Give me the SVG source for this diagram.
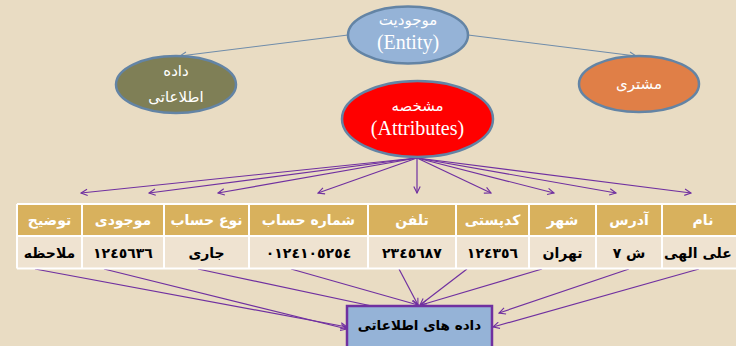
<svg xmlns="http://www.w3.org/2000/svg" width="736" height="346" viewBox="0 0 736 346">
<defs>
<marker id="ap" viewBox="0 0 10 10" refX="9" refY="5" markerWidth="8" markerHeight="8" markerUnits="userSpaceOnUse" orient="auto">
<path d="M1,1 L9,5 L1,9" fill="none" stroke="#7030A0" stroke-width="1.4"/>
</marker>
<marker id="ab" viewBox="0 0 10 10" refX="9" refY="5" markerWidth="8" markerHeight="8" markerUnits="userSpaceOnUse" orient="auto">
<path d="M1,1 L9,5 L1,9" fill="none" stroke="#6F8CAA" stroke-width="1.4"/>
</marker>
</defs>
<style>
.ell{stroke:#6384A5;stroke-width:2.5}
.lat{font-family:"Liberation Serif","DejaVu Serif",serif;font-size:20px;fill:#fff;text-anchor:middle}
.fa{font-family:"DejaVu Sans","Noto Sans",sans-serif;font-size:15px;fill:#fff;text-anchor:middle}
.pc{stroke:#7030A0;stroke-width:1.2;fill:none}
.bc{stroke:#6F8CAA;stroke-width:1.2;fill:none}
.hd{fill:#D8B15D}
.dt{fill:#EFE3D1}
.ht{font-family:"DejaVu Sans","Noto Sans",sans-serif;font-size:14px;font-weight:bold;fill:#fff;text-anchor:middle}
.dtx{font-family:"DejaVu Sans","Noto Sans",sans-serif;font-size:14px;font-weight:bold;fill:#000;text-anchor:middle}
.grid{stroke:#fff;stroke-width:2;fill:none}
</style>
<rect x="0" y="0" width="736" height="346" fill="#E9DCC3"/>

<g id="connectors">
<line class="bc" x1="348" y1="35" x2="180" y2="56" marker-end="url(#ab)"/>
<line class="bc" x1="468" y1="35" x2="636" y2="56" marker-end="url(#ab)"/>
<line class="pc" x1="417" y1="158" x2="81" y2="193" marker-end="url(#ap)"/>
<line class="pc" x1="417" y1="158" x2="149" y2="193" marker-end="url(#ap)"/>
<line class="pc" x1="417" y1="158" x2="218" y2="193" marker-end="url(#ap)"/>
<line class="pc" x1="417" y1="158" x2="318" y2="193" marker-end="url(#ap)"/>
<line class="pc" x1="417" y1="158" x2="417" y2="193" marker-end="url(#ap)"/>
<line class="pc" x1="417" y1="158" x2="491" y2="193" marker-end="url(#ap)"/>
<line class="pc" x1="417" y1="158" x2="554" y2="193" marker-end="url(#ap)"/>
<line class="pc" x1="417" y1="158" x2="616" y2="193" marker-end="url(#ap)"/>
<line class="pc" x1="417" y1="158" x2="691" y2="193" marker-end="url(#ap)"/>
<line class="pc" x1="35" y1="269" x2="347" y2="327" marker-end="url(#ap)"/>
<line class="pc" x1="104" y1="269" x2="347" y2="329" marker-end="url(#ap)"/>
<line class="pc" x1="198" y1="269" x2="400" y2="312"/>
<line class="pc" x1="291" y1="269" x2="418" y2="305" marker-end="url(#ap)"/>
<line class="pc" x1="399" y1="269" x2="418" y2="305" marker-end="url(#ap)"/>
<line class="pc" x1="467" y1="269" x2="420" y2="305" marker-end="url(#ap)"/>
<line class="pc" x1="542" y1="269" x2="421" y2="305" marker-end="url(#ap)"/>
<line class="pc" x1="629" y1="269" x2="499" y2="313" marker-end="url(#ap)"/>
<line class="pc" x1="699" y1="269" x2="493" y2="327" marker-end="url(#ap)"/>
</g>

<g id="entity">
<ellipse class="ell" cx="408" cy="35" rx="60" ry="28.5" fill="#95B3D7"/>
<text class="fa" x="408" y="25" direction="rtl">موجودیت</text>
<text class="lat" x="408" y="49">(Entity)</text>
</g>
<g id="data-node">
<ellipse class="ell" cx="176" cy="84.5" rx="60" ry="28.5" fill="#7F7F56"/>
<text class="fa" x="176" y="76" direction="rtl">داده</text>
<text class="fa" x="176" y="102" direction="rtl">اطلاعاتی</text>
</g>
<g id="customer">
<ellipse class="ell" cx="639" cy="84" rx="60" ry="28" fill="#E07F47"/>
<text class="fa" x="639" y="89" direction="rtl">مشتری</text>
</g>
<g id="attributes">
<ellipse class="ell" cx="417.5" cy="119" rx="75.5" ry="38" fill="#FF0000"/>
<text class="fa" x="417.5" y="111" direction="rtl">مشخصه</text>
<text class="lat" x="417.5" y="135">(Attributes)</text>
</g>

<g id="table">
<rect class="hd" x="17" y="204" width="723" height="31"/>
<rect class="dt" x="17" y="237" width="723" height="31"/>
<path class="grid" d="M17,204 H740 M17,236 H740 M17,268.5 H740 M17,204 V268.5 M82,204 V268.5 M164,204 V268.5 M249,204 V268.5 M368,204 V268.5 M456,204 V268.5 M529,204 V268.5 M596,204 V268.5 M662,204 V268.5"/>
<g id="col-tozih"><text class="ht" x="49.5" y="225" direction="rtl">توضیح</text><text class="dtx" x="49.5" y="258" direction="rtl">ملاحظه</text></g>
<g id="col-mojoodi"><text class="ht" x="123" y="225" direction="rtl">موجودی</text><text class="dtx" x="123" y="258">١٢٤٥٦٣٦</text></g>
<g id="col-noe-hesab"><text class="ht" x="206.5" y="225" direction="rtl">نوع حساب</text><text class="dtx" x="206.5" y="258" direction="rtl">جاری</text></g>
<g id="col-shomare-hesab"><text class="ht" x="308.5" y="225" direction="rtl">شماره حساب</text><text class="dtx" x="308.5" y="258">٠١٢٤١٠٥٢٥٤</text></g>
<g id="col-telefon"><text class="ht" x="412" y="225" direction="rtl">تلفن</text><text class="dtx" x="412" y="258">٢٣٤٥٦٨٧</text></g>
<g id="col-codposti"><text class="ht" x="492.5" y="225" direction="rtl">کدپستی</text><text class="dtx" x="492.5" y="258">١٢٤٣٥٦</text></g>
<g id="col-shahr"><text class="ht" x="562.5" y="225" direction="rtl">شهر</text><text class="dtx" x="562.5" y="258" direction="rtl">تهران</text></g>
<g id="col-adres"><text class="ht" x="629" y="225" direction="rtl">آدرس</text><text class="dtx" x="629" y="258" direction="rtl">ش ٧</text></g>
<g id="col-nam"><text class="ht" x="703" y="225" direction="rtl">نام</text><text class="dtx" x="698" y="258" direction="rtl">علی الهی</text></g>
</g>

<g id="data-box">
<rect x="347" y="306" width="145" height="60" fill="#95B3D7" stroke="#7030A0" stroke-width="2.5"/>
<text class="dtx" x="419.5" y="330" direction="rtl" style="font-weight:bold;font-size:13.5px">داده های اطلاعاتی</text>
</g>
</svg>
